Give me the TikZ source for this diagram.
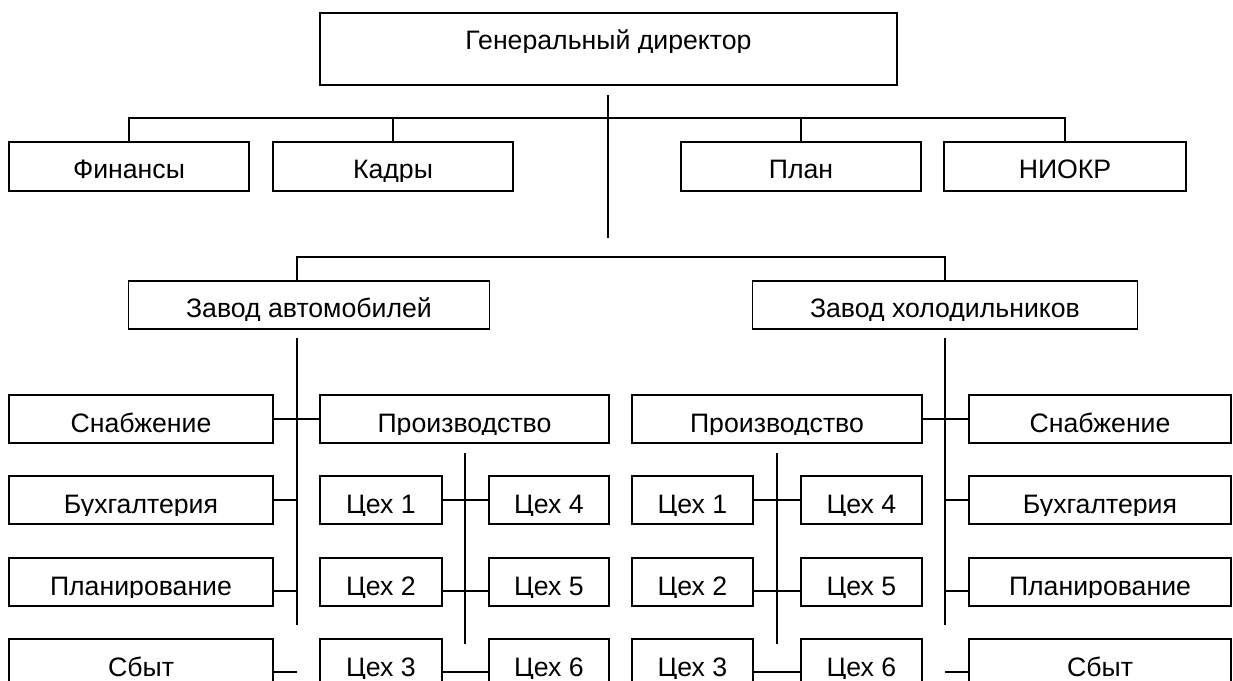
\documentclass[tikz,border=0pt]{standalone}
\usepackage{fontspec}
\setmainfont{Liberation Sans}
\usetikzlibrary{calc}
\tikzset{
  obox/.style={draw, rectangle, inner sep=0pt, outer sep=0pt, fill=white},
  otext/.style={anchor=base, inner sep=0pt, font=\fontsize{20}{21}\selectfont},
  conn/.style={line width=1.4pt}
}
\newcommand\orgbox[6]{%
  \node[obox, minimum width={(#4-#2)*0.75pt}, minimum height={(#5-#3)*0.75pt}] (#1) at ({(#2+#4)/2},{(#3+#5)/2}) {};
  \begin{scope}
    \clip (#2,#3) rectangle (#4,#3+39.5);
    \node[otext] at ({(#2+#4)/2},#3+37) {#6};
  \end{scope}}
\begin{document}
\begin{tikzpicture}[x=0.75pt, y=-0.75pt, line width=1.4pt]
\useasboundingbox (0,0) rectangle (1233,681);
\clip (0,0) rectangle (1233,681);
% top level
\orgbox{gd}{320}{13}{897}{85}{Генеральный директор}
\orgbox{fin}{9}{142}{249}{191}{Финансы}
\orgbox{kad}{273}{142}{513}{191}{Кадры}
\orgbox{pln}{681}{142}{921}{191}{План}
\orgbox{nio}{944}{142}{1186}{191}{НИОКР}
% plants
\orgbox{za}{128.5}{281}{489.5}{329}{Завод автомобилей}
\orgbox{zh}{752.5}{281}{1137.5}{329}{Завод холодильников}
% left plant
\orgbox{lsn}{9}{395}{273}{443}{Снабжение}
\orgbox{lbu}{9}{476}{273}{524}{Бухгалтерия}
\orgbox{lpl}{9}{558}{273}{606}{Планирование}
\orgbox{lsb}{9}{639}{273}{687}{Сбыт}
\orgbox{lpr}{320}{395}{609}{443}{Производство}
\orgbox{lc1}{320}{476}{442}{524}{Цех 1}
\orgbox{lc2}{320}{558}{442}{606}{Цех 2}
\orgbox{lc3}{320}{639}{442}{687}{Цех 3}
\orgbox{lc4}{489}{476}{609}{524}{Цех 4}
\orgbox{lc5}{489}{558}{609}{606}{Цех 5}
\orgbox{lc6}{489}{639}{609}{687}{Цех 6}
% right plant
\orgbox{rpr}{632}{395}{922}{443}{Производство}
\orgbox{rc1}{632}{476}{753}{524}{Цех 1}
\orgbox{rc2}{632}{558}{753}{606}{Цех 2}
\orgbox{rc3}{632}{639}{753}{687}{Цех 3}
\orgbox{rc4}{801}{476}{922}{524}{Цех 4}
\orgbox{rc5}{801}{558}{922}{606}{Цех 5}
\orgbox{rc6}{801}{639}{922}{687}{Цех 6}
\orgbox{rsn}{969}{395}{1231}{443}{Снабжение}
\orgbox{rbu}{969}{476}{1231}{524}{Бухгалтерия}
\orgbox{rpl}{969}{558}{1231}{606}{Планирование}
\orgbox{rsb}{969}{639}{1231}{687}{Сбыт}
% coordinates
\coordinate (busT) at (608,118);
\coordinate (gdA) at (608,95);
\coordinate (gdB) at (608,238);
\coordinate (busM) at (608,257);
\coordinate (lvA) at (297,338);
\coordinate (lvB) at (297,625);
\coordinate (rvA) at (945,338);
\coordinate (rvB) at (945,625);
\coordinate (lmA) at (465,453);
\coordinate (lmB) at (465,644);
\coordinate (rmA) at (777,453);
\coordinate (rmB) at (777,644);
\coordinate (lk2) at (297,591);
\coordinate (lk3) at (297,672);
\coordinate (rk2) at (945,591);
\coordinate (rk3) at (945,672);
\coordinate (lm2) at (465,591);
\coordinate (lm3) at (465,672);
\coordinate (rm2) at (777,591);
\coordinate (rm3) at (777,672);
% connectors top
\draw[conn] (fin.north) |- (busT) -| (nio.north);
\draw[conn] (kad.north) -- (kad.north |- busT);
\draw[conn] (pln.north) -- (pln.north |- busT);
\draw[conn] (gdA) -- (gdB);
\draw[conn] (za.north -| lvA) |- (busM) -| (zh.north);
% verticals
\draw[conn] (lvA) -- (lvB);
\draw[conn] (rvA) -- (rvB);
\draw[conn] (lmA) -- (lmB);
\draw[conn] (rmA) -- (rmB);
% left plant connectors
\draw[conn] (lsn.east) -- (lpr.west);
\draw[conn] (lbu.east) -- (lbu.east -| lvA);
\draw[conn] (lpl.east |- lk2) -- (lk2);
\draw[conn] (lsb.east |- lk3) -- (lk3);
\draw[conn] (lc1.east) -- (lc4.west);
\draw[conn] (lc2.east |- lm2) -- (lc5.west |- lm2);
\draw[conn] (lc3.east |- lm3) -- (lc6.west |- lm3);
% right plant connectors
\draw[conn] (rpr.east) -- (rsn.west);
\draw[conn] (rbu.west) -- (rbu.west -| rvA);
\draw[conn] (rpl.west |- rk2) -- (rk2);
\draw[conn] (rsb.west |- rk3) -- (rk3);
\draw[conn] (rc1.east) -- (rc4.west);
\draw[conn] (rc2.east |- rm2) -- (rc5.west |- rm2);
\draw[conn] (rc3.east |- rm3) -- (rc6.west |- rm3);
\end{tikzpicture}
\end{document}
